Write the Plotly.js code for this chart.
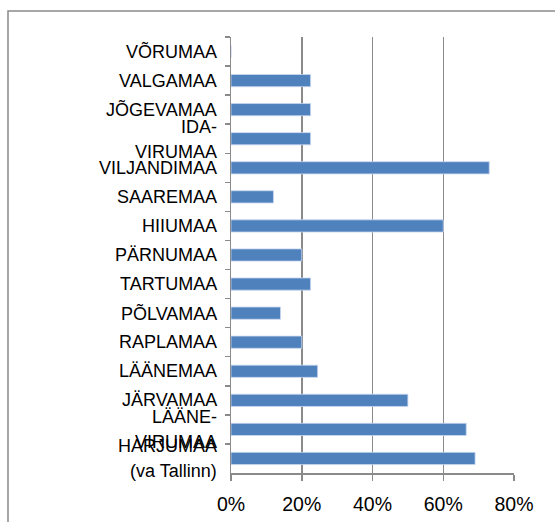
<!DOCTYPE html>
<html>
<head>
<meta charset="utf-8">
<script src="https://cdn.plot.ly/plotly-3.0.1.min.js"></script>
<style>
  html, body { margin: 0; padding: 0; background: #fff; }
  #chart { width: 555px; height: 522px; }
</style>
</head>
<body>
<div id="chart"></div>
<script>
// Categories, top to bottom
var categories = [
  "VÕRUMAA", "VALGAMAA", "JÕGEVAMAA", "IDA-VIRUMAA", "VILJANDIMAA",
  "SAAREMAA", "HIIUMAA", "PÄRNUMAA", "TARTUMAA", "PÕLVAMAA",
  "RAPLAMAA", "LÄÄNEMAA", "JÄRVAMAA", "LÄÄNE-VIRUMAA", "HARJUMAA (va Tallinn)"
];
// Displayed label lines (wrapped as in the original)
var labelLines = [
  ["VÕRUMAA"], ["VALGAMAA"], ["JÕGEVAMAA"], ["IDA-", "VIRUMAA"], ["VILJANDIMAA"],
  ["SAAREMAA"], ["HIIUMAA"], ["PÄRNUMAA"], ["TARTUMAA"], ["PÕLVAMAA"],
  ["RAPLAMAA"], ["LÄÄNEMAA"], ["JÄRVAMAA"], ["LÄÄNE-", "VIRUMAA"], ["HARJUMAA", "(va Tallinn)"]
];
// Share values (fractions)
var values = [
  0.0, 0.225, 0.225, 0.225, 0.73,
  0.12, 0.60, 0.20, 0.225, 0.14,
  0.20, 0.245, 0.50, 0.665, 0.69
];
var tickVals = [0, 0.2, 0.4, 0.6, 0.8];
var tickText = ["0%", "20%", "40%", "60%", "80%"];

var gray = "#8a8a8a";
var fontFam = "Liberation Sans, Arial, sans-serif";

var annotations = [];
categories.forEach(function (c, i) {
  var lines = labelLines[i];
  lines.forEach(function (t, j) {
    var shift = 0;
    if (lines.length === 2) shift = (j === 0) ? 12 : -13;
    annotations.push({
      xref: "paper", yref: "y", x: 0, y: c,
      xanchor: "right", yanchor: "middle",
      xshift: -12, yshift: shift,
      text: t, showarrow: false,
      font: { family: fontFam, size: 18, color: "#000" }
    });
  });
});

var trace = {
  type: "bar",
  orientation: "h",
  y: categories,
  x: values,
  marker: { color: "#4F81BD", line: { color: "rgba(200,215,240,0.8)", width: 1 } },
  hoverinfo: "x+y"
};

var layout = {
  width: 555, height: 522,
  margin: { l: 231, r: 41, t: 37, b: 49 },
  paper_bgcolor: "#fff", plot_bgcolor: "#fff",
  showlegend: false,
  bargap: 0.58,
  font: { family: fontFam, size: 18, color: "#000" },
  xaxis: {
    range: [0, 0.8],
    automargin: false,
    tickvals: tickVals, ticktext: tickText,
    showgrid: true, gridcolor: gray, gridwidth: 1.5,
    zeroline: false,
    showline: true, linecolor: gray, linewidth: 1.5,
    ticks: "outside", ticklen: 6, tickcolor: gray, tickwidth: 1.5,
    ticklabelstandoff: 7,
    tickfont: { family: fontFam, size: 19.5, color: "#000" },
    fixedrange: true
  },
  yaxis: {
    type: "category",
    automargin: false,
    categoryorder: "array",
    categoryarray: categories,
    range: [categories.length - 0.5, -0.5],
    autorange: false,
    showticklabels: false,
    showgrid: false, zeroline: false,
    showline: true, linecolor: gray, linewidth: 1.5,
    ticks: "outside", tickson: "boundaries", ticklen: 5, tickcolor: gray, tickwidth: 1.5,
    fixedrange: true
  },
  annotations: annotations,
  shapes: [{
    type: "rect", xref: "paper", yref: "paper",
    x0: -0.788, x1: 1.3, y0: -0.3, y1: 1.0596,
    line: { color: gray, width: 1.5 }, fillcolor: "rgba(0,0,0,0)",
    layer: "below"
  }]
};

Plotly.newPlot("chart", [trace], layout, { displayModeBar: false, staticPlot: true });
</script>
</body>
</html>
